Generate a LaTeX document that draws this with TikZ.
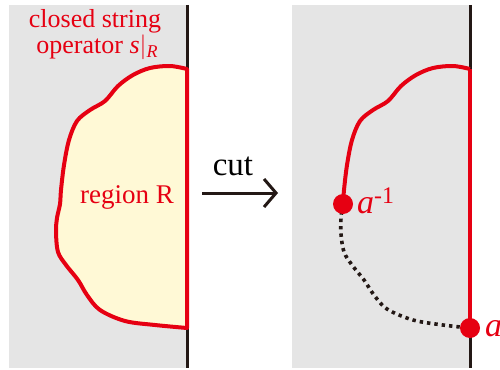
\documentclass[tikz,border=0pt]{standalone}
\usepackage{fontspec}
\setmainfont{Liberation Serif}
\usetikzlibrary{arrows.meta, positioning}
\definecolor{cRed}{HTML}{E60012}
\definecolor{cGray}{HTML}{E5E5E5}
\definecolor{cYel}{HTML}{FFF9D6}
\definecolor{cInk}{HTML}{231815}

\begin{document}
\begin{tikzpicture}[
  x=1pt, y=-1pt,
  panel/.style={fill=cGray, draw=none},
  wall/.style={draw=cInk, line width=3pt},
  strg/.style={draw=cRed, line width=4pt, line join=round},
  dotl/.style={draw=cInk, line width=3.6pt, dash pattern=on 3.4pt off 4pt},
  endpt/.style={circle, fill=cRed, inner sep=0pt, minimum size=20pt},
  lbl/.style={text=cRed, inner sep=0pt, anchor=base, font=\fontsize{26}{28}\selectfont},
  arr/.style={-{Straight Barb[length=12pt, width=28pt]}, line width=3pt, draw=cInk}
]
\useasboundingbox (0,0) rectangle (500,369);

% LEFT PANEL
\fill[panel] (9,5) rectangle (187,368);
\coordinate (lTop) at (187,5);
\coordinate (lBot) at (187,368);
\draw[wall] (lTop) -- (lBot);
\draw[strg, fill=cYel] plot[smooth, tension=0.55] coordinates {(187,69) (170,66) (150,68) (133,75)
  (118,86) (105,101) (90,110) (77,121) (69,140) (64,165) (61,190) (60,204) (57,218) (56,232)
  (58,252) (66,265) (78,280) (87,295) (100,310) (125,321) (155,325) (187,328)} -- cycle;
\node[lbl] (sTxt) at (95,28) {closed string};
\node[lbl] (sOp) at (97,53) {operator \textit{s}$|$\raisebox{-0.4ex}{\fontsize{18}{18}\selectfont\textit{R}}};
\node[lbl, font=\fontsize{27}{29}\selectfont] (rTxt) at (127,203) {region R};

% CUT ARROW
\coordinate (cutL) at (202,193);
\coordinate (cutR) at (278,193);
\draw[arr] (cutL) -- (cutR);
\node[inner sep=0pt, anchor=base, font=\fontsize{33}{35}\selectfont] (cutTxt) at (233,175) {cut};

% RIGHT PANEL
\fill[panel] (292,5) rectangle (470,368);
\coordinate (rTop) at (470,5);
\coordinate (rBot) at (470,368);
\draw[wall] (rTop) -- (rBot);
\coordinate (rCut) at (470,69);
\begin{scope}[xshift=283pt]
\draw[strg] plot[smooth, tension=0.55] coordinates {(187,69) (170,66) (150,68) (133,75)
  (118,86) (105,101) (90,110) (77,121) (69,140) (64,165) (61,190) (60,204)};
\draw[dotl] plot[smooth, tension=0.55] coordinates {(60,204) (58,218) (58,234)
  (61,252) (69,265) (81,280) (91,295) (104,309) (130,320) (160,325) (187,328)};
\node[endpt] (aInv) at (60,204) {};
\node[endpt] (aEnd) at (187,328) {};
\end{scope}
\draw[strg] (rCut) -- (aEnd.center);
\node[lbl, anchor=base west, font=\fontsize{34}{36}\selectfont] (aInvTxt) at (357,213) {\textit{a}\textsuperscript{-1}};
\node[lbl, anchor=base west, font=\fontsize{34}{36}\selectfont] (aEndTxt) at (485,336) {\textit{a}};

\end{tikzpicture}
\end{document}
